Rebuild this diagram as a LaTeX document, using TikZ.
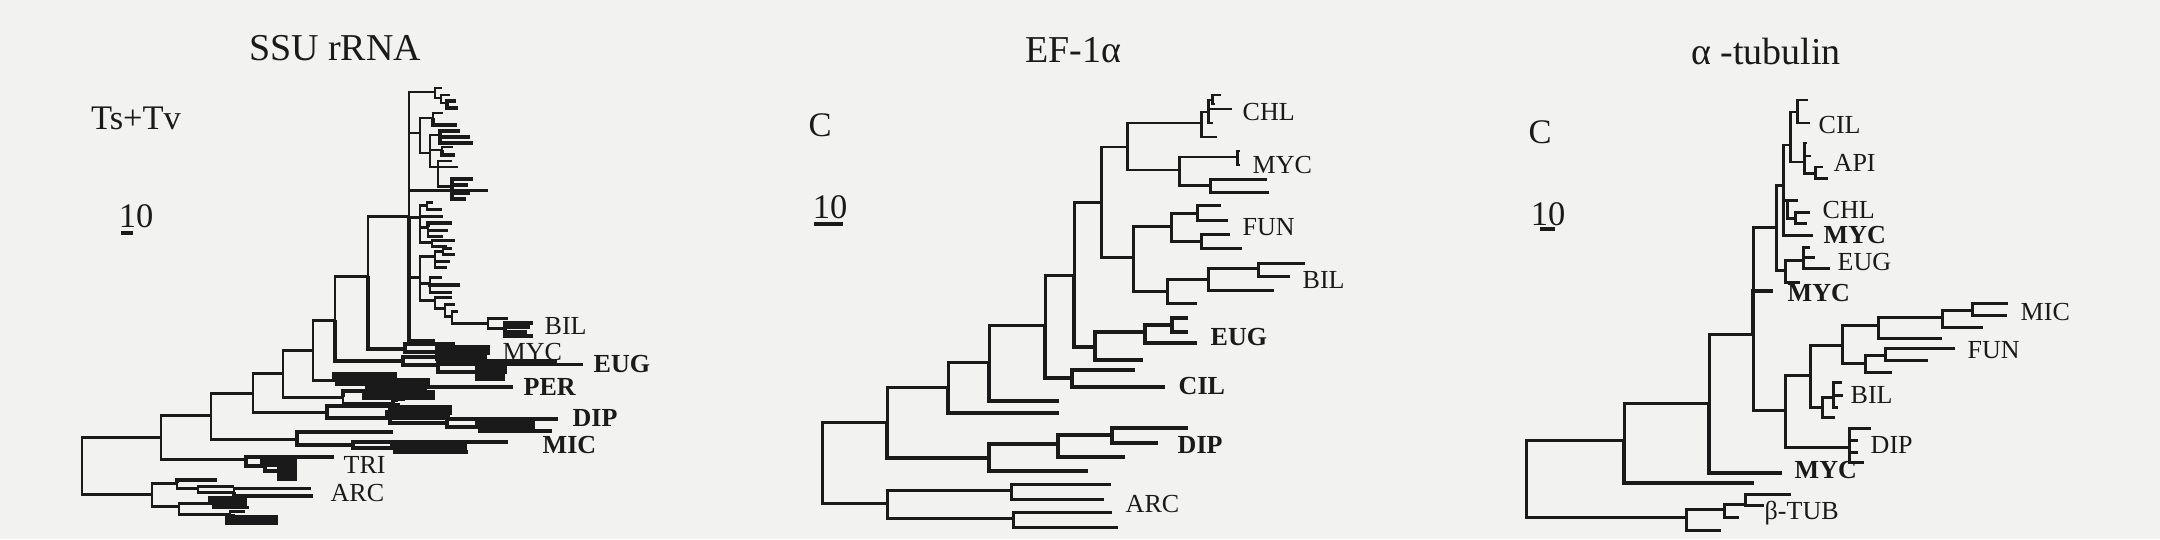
\documentclass[tikz,border=0pt]{standalone}
\usepackage{fontspec}
\setmainfont{Liberation Serif}
\definecolor{paper}{RGB}{242,242,240}
\definecolor{ink}{RGB}{26,26,26}
\tikzset{
  br/.style={line width=0.85pt, draw=ink},
  thk/.style={line width=1.4pt},
  hvy/.style={line width=3.1pt},
  lab/.style={anchor=west, inner sep=0pt, text=ink, font=\fontsize{7.4}{8}\selectfont},
  blab/.style={lab, font=\fontsize{7.4}{8}\selectfont\bfseries},
  ttl/.style={inner sep=0pt, text=ink, font=\fontsize{10.8}{12}\selectfont},
  side/.style={inner sep=0pt, text=ink, font=\fontsize{9.8}{11}\selectfont}
}
\begin{document}
\begin{tikzpicture}[x=0.01cm,y=-0.01cm]
  \useasboundingbox (0,0) rectangle (2160,539);
  \fill[paper] (0,0) rectangle (2160,539);

  % SSU rRNA
  \node[ttl] (ssuT) at (335,48) {SSU rRNA};
  \node[side] (ssuK) at (136,118) {Ts+Tv};
  \node[side] (ssuS) at (136,216) {10};
  \draw[ink, line width=0.9pt] (121,233) -- (133,233);
  \path
    (82,465) coordinate (s0)   (161,437) coordinate (s1)
    (211,415) coordinate (s2)  (253,393) coordinate (s3)
    (283,373) coordinate (s4)  (313,350) coordinate (s5)
    (335,320) coordinate (s6)  (368,276) coordinate (s7)
    (409,216) coordinate (sm)
    (435,92) coordinate (sc1)  (442,88) coordinate (sc1l)
    (441,98) coordinate (sc1a) (450,95) coordinate (sc1al)
    (447,103) coordinate (sc1b) (456,101) coordinate (sc1bl) (458,108) coordinate (sc1bm)
    (420,133) coordinate (sc2)
    (433,118) coordinate (sc2a) (443,113) coordinate (sc2al) (457,125) coordinate (sc2am)
    (430,153) coordinate (sc2b)
    (440,135) coordinate (sc2c) (460,131) coordinate (sc2cl) (470,137) coordinate (sc2cm) (473,143) coordinate (sc2cn)
    (442,150) coordinate (sc2d) (453,147) coordinate (sc2dl) (455,155) coordinate (sc2dm)
    (438,167) coordinate (sc2e) (452,161) coordinate (sc2el) (458,167) coordinate (sc2em)
    (452,186) coordinate (sc2g) (473,179) coordinate (sc2gl) (468,185) coordinate (sc2gm)
    (470,193) coordinate (sc2gn) (466,199) coordinate (sc2go)
    (488,190) coordinate (sl1)
    (420,217) coordinate (sc3)
    (427,205) coordinate (sc3a) (433,202) coordinate (sc3al) (442,209) coordinate (sc3am)
    (443,216) coordinate (sc3l)
    (428,227) coordinate (sc3b) (452,223) coordinate (sc3bl) (448,230) coordinate (sc3bm) (443,236) coordinate (sc3bn)
    (432,242) coordinate (sc3c) (455,240) coordinate (sc3cl) (447,246) coordinate (sc3cm)
    (420,277) coordinate (sc4)
    (435,256) coordinate (sc4a) (443,251) coordinate (sc4b) (452,248) coordinate (sc4bl) (455,254) coordinate (sc4bm)
    (450,261) coordinate (sc4al) (447,267) coordinate (sc4am)
    (430,283) coordinate (sc4c) (442,277) coordinate (sc4cl) (460,285) coordinate (sc4cm) (452,292) coordinate (sc4cn)
    (435,300) coordinate (sc4d) (452,297) coordinate (sc4dl)
    (445,308) coordinate (sc4e) (455,304) coordinate (sc4el)
    (452,316) coordinate (sc4f) (458,311) coordinate (sc4fl)
    (488,323) coordinate (sB) (508,318) coordinate (sBl)
    (505,328) coordinate (sB1) (533,323) coordinate (sB1l) (530,327) coordinate (sB1m)
    (527,332) coordinate (sB1n) (533,336) coordinate (sB1o)
    (435,341) coordinate (sl2)
    (405,349) coordinate (sY) (455,344) coordinate (sYl)
    (440,352) coordinate (sY1) (490,350) coordinate (sY1l) (487,356) coordinate (sY1m)
    (403,361) coordinate (sE) (463,357) coordinate (sEl)
    (438,365) coordinate (sE1) (557,361) coordinate (sE1l) (583,364) coordinate (sE1m)
    (480,372) coordinate (sE2) (507,369) coordinate (sE2l) (505,376) coordinate (sE2m)
    (337,380) coordinate (sPu) (397,377) coordinate (sPul)
    (370,384) coordinate (sPu1) (430,383) coordinate (sPu1l) (513,387) coordinate (sPu1m)
    (343,397) coordinate (sPl)
    (367,391) coordinate (sPl1) (427,388) coordinate (sPl1l) (435,395) coordinate (sPl1m)
    (393,403) coordinate (sPl2) (405,399) coordinate (sPl2l) (400,405) coordinate (sPl2m)
    (327,412) coordinate (sD)
    (393,406) coordinate (sD1) (398,400) coordinate (sD1l) (452,410) coordinate (sD1m)
    (390,418) coordinate (sD2) (450,415) coordinate (sD2l)
    (447,423) coordinate (sD3) (558,419) coordinate (sD3l)
    (480,427) coordinate (sD4) (535,424) coordinate (sD4l) (552,431) coordinate (sD4m)
    (297,439) coordinate (sM) (393,432) coordinate (sMl)
    (353,445) coordinate (sM1) (508,442) coordinate (sM1l)
    (395,448) coordinate (sM2) (467,446) coordinate (sM2l) (468,452) coordinate (sM2m)
    (246,459) coordinate (sT) (334,457) coordinate (sTl)
    (265,466) coordinate (sT1) (297,462) coordinate (sT1l)
    (282,471) coordinate (sT2) (297,469) coordinate (sT2l) (297,476) coordinate (sT2m)
    (152,494) coordinate (sA)
    (177,483) coordinate (sA1) (217,480) coordinate (sA1l)
    (198,488) coordinate (sA2) (234,486) coordinate (sA2l)
    (234,492) coordinate (sA3) (311,488) coordinate (sA3l) (313,496) coordinate (sA3m)
    (179,506) coordinate (sA4)
    (213,503) coordinate (sA5) (247,501) coordinate (sA5l) (249,507) coordinate (sA5m)
    (230,514) coordinate (sA6) (245,511) coordinate (sA6l) (278,520) coordinate (sA6m);
  \begin{scope}[br]
    \draw (s0) |- (s1);
    \draw (s0) |- (sA);
    \draw (s1) |- (s2);
    \draw (s1) |- (sT);
    \draw (s2) |- (s3);
    \draw (s2) |- (sM);
    \draw (s3) |- (s4);
    \draw (s3) |- (sD);
    \draw (s4) |- (s5);
    \draw (s4) |- (sPl);
    \draw (s5) |- (s6);
    \draw (s5) |- (sPu);
    \draw (s6) |- (s7);
    \draw[thk] (s6) |- (sE);
    \draw (s7) |- (sm);
    \draw[thk] (s7) |- (sY);
    \draw (sm) |- (sc1);
    \draw (sm) |- (sc2);
    \draw (sm) |- (sl1);
    \draw (sm) |- (sc3);
    \draw (sm) |- (sc4);
    \draw[thk] (sm) |- (sl2);
    \draw (sc1) |- (sc1l);
    \draw (sc1) |- (sc1a);
    \draw (sc1a) |- (sc1al);
    \draw (sc1a) |- (sc1b);
    \draw[thk] (sc1b) |- (sc1bl);
    \draw[thk] (sc1b) |- (sc1bm);
    \draw (sc2) |- (sc2a);
    \draw (sc2) |- (sc2b);
    \draw (sc2a) |- (sc2al);
    \draw[thk] (sc2a) |- (sc2am);
    \draw (sc2b) |- (sc2c);
    \draw (sc2b) |- (sc2d);
    \draw (sc2b) |- (sc2e);
    \draw[thk] (sc2c) |- (sc2cl);
    \draw[thk] (sc2c) |- (sc2cm);
    \draw[thk] (sc2c) |- (sc2cn);
    \draw (sc2d) |- (sc2dl);
    \draw[thk] (sc2d) |- (sc2dm);
    \draw (sc2e) |- (sc2el);
    \draw (sc2e) |- (sc2em);
    \draw (sc2e) |- (sc2g);
    \draw[thk] (sc2g) |- (sc2gl);
    \draw[thk] (sc2g) |- (sc2gm);
    \draw[thk] (sc2g) |- (sc2gn);
    \draw[thk] (sc2g) |- (sc2go);
    \draw (sc3) |- (sc3a);
    \draw (sc3) |- (sc3l);
    \draw (sc3) |- (sc3b);
    \draw (sc3) |- (sc3c);
    \draw (sc3a) |- (sc3al);
    \draw (sc3a) |- (sc3am);
    \draw[thk] (sc3b) |- (sc3bl);
    \draw (sc3b) |- (sc3bm);
    \draw (sc3b) |- (sc3bn);
    \draw (sc3c) |- (sc3cl);
    \draw (sc3c) |- (sc3cm);
    \draw (sc4) |- (sc4a);
    \draw (sc4) |- (sc4c);
    \draw (sc4) |- (sc4d);
    \draw (sc4a) |- (sc4b);
    \draw (sc4a) |- (sc4al);
    \draw (sc4a) |- (sc4am);
    \draw (sc4b) |- (sc4bl);
    \draw (sc4b) |- (sc4bm);
    \draw (sc4c) |- (sc4cl);
    \draw[thk] (sc4c) |- (sc4cm);
    \draw (sc4c) |- (sc4cn);
    \draw (sc4d) |- (sc4dl);
    \draw (sc4d) |- (sc4e);
    \draw (sc4e) |- (sc4el);
    \draw (sc4e) |- (sc4f);
    \draw (sc4f) |- (sc4fl);
    \draw (sc4f) |- (sB);
    \draw (sB) |- (sBl);
    \draw (sB) |- (sB1);
    \draw[thk] (sB1) |- (sB1l);
    \draw[thk] (sB1) |- (sB1m);
    \draw[thk] (sB1) |- (sB1n);
    \draw[thk] (sB1) |- (sB1o);
    \draw[thk] (sY) |- (sYl);
    \draw[thk] (sY) |- (sY1);
    \draw[hvy] (sY1) |- (sY1l);
    \draw[hvy] (sY1) |- (sY1m);
    \draw[thk] (sE) |- (sEl);
    \draw[thk] (sE) |- (sE1);
    \draw[thk] (sE1) |- (sE1l);
    \draw (sE1) |- (sE1m);
    \draw[thk] (sE1) |- (sE2);
    \draw[hvy] (sE2) |- (sE2l);
    \draw[hvy] (sE2) |- (sE2m);
    \draw[hvy] (sPu) |- (sPul);
    \draw[thk] (sPu) |- (sPu1);
    \draw[hvy] (sPu1) |- (sPu1l);
    \draw[thk] (sPu1) |- (sPu1m);
    \draw[thk] (sPl) |- (sPl1);
    \draw (sPl) |- (sPl2);
    \draw[thk] (sPl1) |- (sPl1l);
    \draw[hvy] (sPl1) |- (sPl1m);
    \draw[thk] (sPl2) |- (sPl2l);
    \draw[thk] (sPl2) |- (sPl2m);
    \draw[thk] (sD) |- (sD1);
    \draw[thk] (sD) |- (sD2);
    \draw (sD1) |- (sD1l);
    \draw[hvy] (sD1) |- (sD1m);
    \draw[hvy] (sD2) |- (sD2l);
    \draw[thk] (sD2) |- (sD3);
    \draw[thk] (sD3) |- (sD3l);
    \draw[thk] (sD3) |- (sD4);
    \draw[hvy] (sD4) |- (sD4l);
    \draw[thk] (sD4) |- (sD4m);
    \draw[thk] (sM) |- (sMl);
    \draw[thk] (sM) |- (sM1);
    \draw[thk] (sM1) |- (sM1l);
    \draw[thk] (sM1) |- (sM2);
    \draw[hvy] (sM2) |- (sM2l);
    \draw[thk] (sM2) |- (sM2m);
    \draw[thk] (sT) |- (sTl);
    \draw[thk] (sT) |- (sT1);
    \draw[hvy] (sT1) |- (sT1l);
    \draw[thk] (sT1) |- (sT2);
    \draw[hvy] (sT2) |- (sT2l);
    \draw[hvy] (sT2) |- (sT2m);
    \draw (sA) |- (sA1);
    \draw (sA) |- (sA4);
    \draw[thk] (sA1) |- (sA1l);
    \draw (sA1) |- (sA2);
    \draw (sA2) |- (sA2l);
    \draw (sA2) |- (sA3);
    \draw (sA3) |- (sA3l);
    \draw[thk] (sA3) |- (sA3m);
    \draw (sA4) |- (sA5);
    \draw (sA4) |- (sA6);
    \draw[hvy] (sA5) |- (sA5l);
    \draw (sA5) |- (sA5m);
    \draw (sA6) |- (sA6l);
    \draw[hvy] (sA6) |- (sA6m);
  \end{scope}
  \node[lab]  (lsBIL) at (544,326) {BIL};
  \node[lab]  (lsMYC) at (502,352) {MYC};
  \node[blab] (lsEUG) at (593,364) {EUG};
  \node[blab] (lsPER) at (523,387) {PER};
  \node[blab] (lsDIP) at (572,418) {DIP};
  \node[blab] (lsMIC) at (542,445) {MIC};
  \node[lab]  (lsTRI) at (343,465) {TRI};
  \node[lab]  (lsARC) at (330,493) {ARC};

  % EF-1alpha
  \node[ttl] (efT) at (1073,50) {EF-1α};
  \node[side] (efK) at (820,125) {C};
  \node[side] (efS) at (830,207) {10};
  \draw[ink, line width=0.9pt] (814,224) -- (843,224);
  \path
    (822,462) coordinate (e0)   (887,422) coordinate (eI)
    (887,503) coordinate (eA)
    (1011,490) coordinate (eA1) (1111,484) coordinate (eA1l) (1104,499) coordinate (eA1m)
    (1013,518) coordinate (eA2) (1112,512) coordinate (eA2l) (1118,527) coordinate (eA2m)
    (948,387) coordinate (eH)   (1059,413) coordinate (eHl)
    (989,362) coordinate (eG)   (1059,401) coordinate (eGl)
    (1045,325) coordinate (eE)
    (1072,378) coordinate (eCI) (1135,370) coordinate (eCIl) (1165,387) coordinate (eCIm)
    (1074,275) coordinate (eD)
    (1095,347) coordinate (eEU) (1143,360) coordinate (eEUl)
    (1145,332) coordinate (eEU1) (1197,343) coordinate (eEU1l)
    (1172,325) coordinate (eEU2) (1188,318) coordinate (eEU2l) (1188,332) coordinate (eEU2m)
    (1101,202) coordinate (eB)  (1127,147) coordinate (eX)
    (1201,123) coordinate (eCH) (1217,137) coordinate (eCHl)
    (1208,112) coordinate (eCH1) (1232,109) coordinate (eCH1l) (1213,123) coordinate (eCH1m)
    (1212,100) coordinate (eCH2) (1221,95) coordinate (eCH2l) (1215,104) coordinate (eCH2m)
    (1179,170) coordinate (eMY)
    (1237,157) coordinate (eMY1) (1240,151) coordinate (eMY1l) (1240,165) coordinate (eMY1m)
    (1210,185) coordinate (eMY2) (1267,179) coordinate (eMY2l) (1269,192) coordinate (eMY2m)
    (1133,257) coordinate (eC)  (1171,226) coordinate (eF)
    (1197,213) coordinate (eF1) (1221,205) coordinate (eF1l) (1228,220) coordinate (eF1m)
    (1201,241) coordinate (eF2) (1230,234) coordinate (eF2l) (1242,248) coordinate (eF2m)
    (1167,291) coordinate (eBI) (1197,303) coordinate (eBIl)
    (1208,279) coordinate (eBI1) (1274,290) coordinate (eBI1l)
    (1258,268) coordinate (eBI2) (1305,263) coordinate (eBI2l) (1290,276) coordinate (eBI2m)
    (989,458) coordinate (eDP)  (1088,471) coordinate (eDPl)
    (1058,444) coordinate (eDP1) (1125,457) coordinate (eDP1l)
    (1112,435) coordinate (eDP2) (1188,428) coordinate (eDP2l) (1158,443) coordinate (eDP2m);
  \begin{scope}[br]
    \draw (e0) |- (eI);
    \draw (e0) |- (eA);
    \draw (eI) |- (eH);
    \draw[thk] (eI) |- (eDP);
    \draw (eH) |- (eG);
    \draw[thk] (eH) |- (eHl);
    \draw (eG) |- (eE);
    \draw[thk] (eG) |- (eGl);
    \draw (eE) |- (eD);
    \draw[thk] (eE) |- (eCI);
    \draw[thk] (eCI) |- (eCIl);
    \draw[thk] (eCI) |- (eCIm);
    \draw (eD) |- (eB);
    \draw[thk] (eD) |- (eEU);
    \draw[thk] (eEU) |- (eEU1);
    \draw[thk] (eEU) |- (eEUl);
    \draw[thk] (eEU1) |- (eEU2);
    \draw[thk] (eEU1) |- (eEU1l);
    \draw[thk] (eEU2) |- (eEU2l);
    \draw[thk] (eEU2) |- (eEU2m);
    \draw (eB) |- (eX);
    \draw (eB) |- (eC);
    \draw (eX) |- (eCH);
    \draw (eX) |- (eMY);
    \draw (eCH) |- (eCH1);
    \draw (eCH) |- (eCHl);
    \draw (eCH1) |- (eCH2);
    \draw (eCH1) |- (eCH1l);
    \draw (eCH1) |- (eCH1m);
    \draw (eCH2) |- (eCH2l);
    \draw (eCH2) |- (eCH2m);
    \draw (eMY) |- (eMY1);
    \draw (eMY) |- (eMY2);
    \draw (eMY1) |- (eMY1l);
    \draw (eMY1) |- (eMY1m);
    \draw (eMY2) |- (eMY2l);
    \draw (eMY2) |- (eMY2m);
    \draw (eC) |- (eF);
    \draw (eC) |- (eBI);
    \draw (eF) |- (eF1);
    \draw (eF) |- (eF2);
    \draw (eF1) |- (eF1l);
    \draw (eF1) |- (eF1m);
    \draw (eF2) |- (eF2l);
    \draw (eF2) |- (eF2m);
    \draw (eBI) |- (eBI1);
    \draw (eBI) |- (eBIl);
    \draw (eBI1) |- (eBI2);
    \draw (eBI1) |- (eBI1l);
    \draw (eBI2) |- (eBI2l);
    \draw (eBI2) |- (eBI2m);
    \draw[thk] (eDP) |- (eDP1);
    \draw[thk] (eDP) |- (eDPl);
    \draw[thk] (eDP1) |- (eDP2);
    \draw[thk] (eDP1) |- (eDP1l);
    \draw[thk] (eDP2) |- (eDP2l);
    \draw[thk] (eDP2) |- (eDP2m);
    \draw (eA) |- (eA1);
    \draw (eA) |- (eA2);
    \draw (eA1) |- (eA1l);
    \draw (eA1) |- (eA1m);
    \draw (eA2) |- (eA2l);
    \draw (eA2) |- (eA2m);
  \end{scope}
  \node[lab]  (leCHL) at (1242,112) {CHL};
  \node[lab]  (leMYC) at (1252,165) {MYC};
  \node[lab]  (leFUN) at (1242,227) {FUN};
  \node[lab]  (leBIL) at (1302,280) {BIL};
  \node[blab] (leEUG) at (1210,337) {EUG};
  \node[blab] (leCIL) at (1178,386) {CIL};
  \node[blab] (leDIP) at (1177,445) {DIP};
  \node[lab]  (leARC) at (1125,504) {ARC};

  % alpha-tubulin
  \node[ttl] (tuT) at (1766,52) {α -tubulin};
  \node[side] (tuK) at (1540,132) {C};
  \node[side] (tuS) at (1548,214) {10};
  \draw[ink, line width=0.9pt] (1540,229) -- (1555,229);
  \path
    (1526,478) coordinate (t0)  (1624,440) coordinate (tT1)
    (1754,483) coordinate (tT1l)
    (1686,517) coordinate (tB)  (1721,530) coordinate (tBl)
    (1724,509) coordinate (tB1) (1739,517) coordinate (tB1l)
    (1745,504) coordinate (tB2) (1791,494) coordinate (tB2l) (1764,505) coordinate (tB2m)
    (1709,403) coordinate (tT2) (1782,473) coordinate (tT2l)
    (1753,334) coordinate (tT3) (1773,291) coordinate (tT3l)
    (1776,227) coordinate (tT4)
    (1783,185) coordinate (tU1) (1813,235) coordinate (tU1l)
    (1790,145) coordinate (tU2)
    (1797,112) coordinate (tCI) (1808,100) coordinate (tCIl) (1810,123) coordinate (tCIm)
    (1804,162) coordinate (tAP) (1807,143) coordinate (tAPl) (1811,156) coordinate (tAPm)
    (1815,173) coordinate (tAP1) (1823,167) coordinate (tAP1l) (1828,178) coordinate (tAP1m)
    (1787,200) coordinate (tU3) (1798,200) coordinate (tU3l)
    (1795,218) coordinate (tCH) (1810,212) coordinate (tCHl) (1807,223) coordinate (tCHm)
    (1785,270) coordinate (tU5) (1800,282) coordinate (tU5l)
    (1803,260) coordinate (tEU) (1810,247) coordinate (tEUl) (1815,257) coordinate (tEUm)
    (1830,268) coordinate (tEUn)
    (1785,410) coordinate (tT5) (1810,375) coordinate (tV1)
    (1842,345) coordinate (tV2)
    (1878,325) coordinate (tW1) (1942,338) coordinate (tW1l)
    (1942,317) coordinate (tW3) (1983,327) coordinate (tW3l)
    (1972,310) coordinate (tW4) (2008,303) coordinate (tW4l) (2007,315) coordinate (tW4m)
    (1865,363) coordinate (tW2) (1892,372) coordinate (tW2l)
    (1885,355) coordinate (tW5) (1955,348) coordinate (tW5l) (1928,360) coordinate (tW5m)
    (1822,407) coordinate (tBI) (1835,417) coordinate (tBIl)
    (1833,397) coordinate (tBI1) (1842,382) coordinate (tBI1l) (1843,395) coordinate (tBI1m)
    (1838,407) coordinate (tBI1n)
    (1849,447) coordinate (tDP) (1871,428) coordinate (tDPl) (1858,440) coordinate (tDPm)
    (1858,452) coordinate (tDPn) (1864,462) coordinate (tDPo);
  \begin{scope}[br]
    \draw (t0) |- (tT1);
    \draw (t0) |- (tB);
    \draw (tT1) |- (tT2);
    \draw[thk] (tT1) |- (tT1l);
    \draw (tB) |- (tB1);
    \draw (tB) |- (tBl);
    \draw (tB1) |- (tB2);
    \draw (tB1) |- (tB1l);
    \draw (tB2) |- (tB2l);
    \draw (tB2) |- (tB2m);
    \draw (tT2) |- (tT3);
    \draw[thk] (tT2) |- (tT2l);
    \draw (tT3) |- (tT4);
    \draw[thk] (tT3) |- (tT3l);
    \draw (tT3) |- (tT5);
    \draw (tT4) |- (tU1);
    \draw (tT4) |- (tU5);
    \draw (tU1) |- (tU2);
    \draw (tU1) |- (tU3);
    \draw (tU1) |- (tU1l);
    \draw (tU2) |- (tCI);
    \draw (tU2) |- (tAP);
    \draw (tCI) |- (tCIl);
    \draw (tCI) |- (tCIm);
    \draw (tAP) |- (tAPl);
    \draw (tAP) |- (tAPm);
    \draw (tAP) |- (tAP1);
    \draw (tAP1) |- (tAP1l);
    \draw (tAP1) |- (tAP1m);
    \draw (tU3) |- (tU3l);
    \draw (tU3) |- (tCH);
    \draw (tCH) |- (tCHl);
    \draw (tCH) |- (tCHm);
    \draw (tU5) |- (tEU);
    \draw (tU5) |- (tU5l);
    \draw (tEU) |- (tEUl);
    \draw (tEU) |- (tEUm);
    \draw (tEU) |- (tEUn);
    \draw (tT5) |- (tV1);
    \draw (tT5) |- (tDP);
    \draw (tV1) |- (tV2);
    \draw (tV1) |- (tBI);
    \draw (tV2) |- (tW1);
    \draw (tV2) |- (tW2);
    \draw (tW1) |- (tW3);
    \draw (tW1) |- (tW1l);
    \draw (tW3) |- (tW4);
    \draw (tW3) |- (tW3l);
    \draw (tW4) |- (tW4l);
    \draw (tW4) |- (tW4m);
    \draw (tW2) |- (tW5);
    \draw (tW2) |- (tW2l);
    \draw (tW5) |- (tW5l);
    \draw (tW5) |- (tW5m);
    \draw (tBI) |- (tBI1);
    \draw (tBI) |- (tBIl);
    \draw (tBI1) |- (tBI1l);
    \draw (tBI1) |- (tBI1m);
    \draw (tBI1) |- (tBI1n);
    \draw (tDP) |- (tDPl);
    \draw (tDP) |- (tDPm);
    \draw (tDP) |- (tDPn);
    \draw (tDP) |- (tDPo);
  \end{scope}
  \node[lab]  (ltCIL) at (1818,125) {CIL};
  \node[lab]  (ltAPI) at (1833,163) {API};
  \node[lab]  (ltCHL) at (1822,210) {CHL};
  \node[blab] (ltMYCa) at (1823,235) {MYC};
  \node[lab]  (ltEUG) at (1837,262) {EUG};
  \node[blab] (ltMYCb) at (1787,293) {MYC};
  \node[lab]  (ltMIC) at (2020,312) {MIC};
  \node[lab]  (ltFUN) at (1967,350) {FUN};
  \node[lab]  (ltBIL) at (1850,395) {BIL};
  \node[lab]  (ltDIP) at (1870,445) {DIP};
  \node[blab] (ltMYCc) at (1794,470) {MYC};
  \node[lab]  (ltTUB) at (1764,513) {β-TUB};
\end{tikzpicture}
\end{document}
